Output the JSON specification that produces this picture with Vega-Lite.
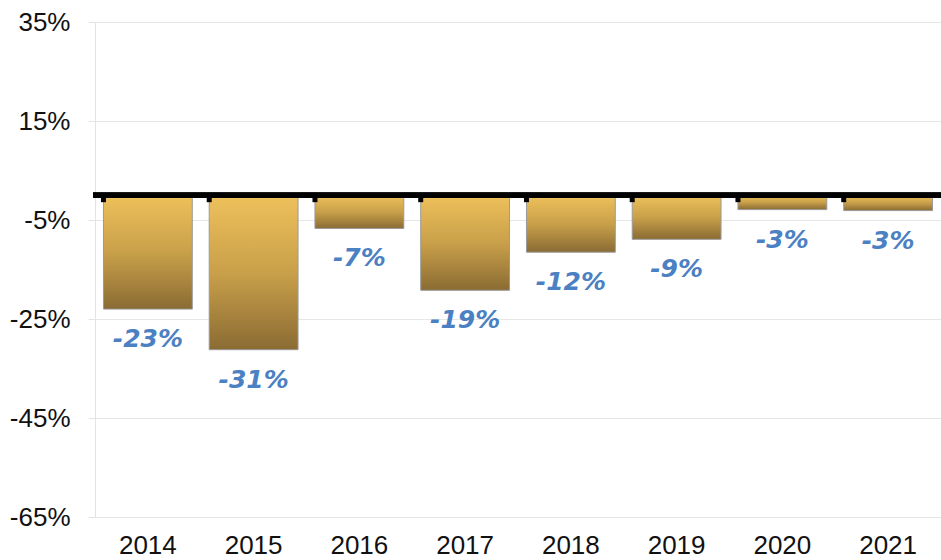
{
  "$schema": "https://vega.github.io/schema/vega-lite/v6.json",
  "autosize": "none",
  "width": 846,
  "height": 495,
  "padding": {"left": 95, "top": 22, "right": 0, "bottom": 43},
  "background": "white",
  "config": {
    "view": {"stroke": null},
    "font": "Liberation Sans",
    "locale": {"number": {"decimal": ".", "thousands": ",", "grouping": [3], "currency": ["$", ""], "minus": "-"}}
  },
  "data": {"values": [
    {"year": "2014", "value": -0.23},
    {"year": "2015", "value": -0.312},
    {"year": "2016", "value": -0.067},
    {"year": "2017", "value": -0.192},
    {"year": "2018", "value": -0.115},
    {"year": "2019", "value": -0.089},
    {"year": "2020", "value": -0.029},
    {"year": "2021", "value": -0.031}
  ]},
  "encoding": {
    "x": {"field": "year", "type": "nominal",
      "scale": {"paddingInner": 0.16, "paddingOuter": 0.08},
      "axis": {"title": null, "domain": false, "ticks": false, "grid": false, "labelAngle": 0,
        "labelFontSize": 26, "labelColor": "#111", "labelPadding": 15, "labelFont": "Liberation Sans"}}
  },
  "layer": [
    {
      "mark": {"type": "bar", "stroke": "#9a9a9a", "strokeWidth": 1,
        "color": {"gradient": "linear", "x1": 0, "y1": 0, "x2": 0, "y2": 1,
          "stops": [{"offset": 0, "color": "#EEC15B"}, {"offset": 0.5, "color": "#C9A04A"}, {"offset": 1, "color": "#8A6B33"}]}},
      "encoding": {
        "y": {"field": "value", "type": "quantitative",
          "scale": {"domain": [-0.65, 0.35], "nice": false, "zero": false},
          "axis": {"title": null, "values": [-0.65, -0.45, -0.25, -0.05, 0.15, 0.35], "format": ".0%",
            "labelFontSize": 26, "labelColor": "#111", "labelPadding": 18, "tickSize": 7,
            "tickColor": "#e3e3e3", "gridColor": "#e6e6e6", "domainColor": "#e3e3e3", "labelFont": "Liberation Sans"}}
      }
    },
    {
      "mark": {"type": "text", "baseline": "top", "dy": 18, "fontSize": 25, "fontStyle": "italic", "fontWeight": "bold", "font": "DejaVu Sans", "color": "#4B80C3"},
      "encoding": {
        "y": {"field": "value", "type": "quantitative"},
        "text": {"field": "value", "type": "quantitative", "format": ".0%"}
      }
    },
    {
      "mark": {"type": "rule", "color": "black", "strokeWidth": 5},
      "encoding": {"y": {"datum": 0}, "x": {"value": -2}, "x2": {"value": 846}}
    },
    {
      "mark": {"type": "rule", "color": "black", "strokeWidth": 5},
      "encoding": {
        "x": {"field": "year", "type": "nominal", "bandPosition": 0},
        "y": {"datum": 0},
        "y2": {"datum": -0.014}
      }
    }
  ]
}
